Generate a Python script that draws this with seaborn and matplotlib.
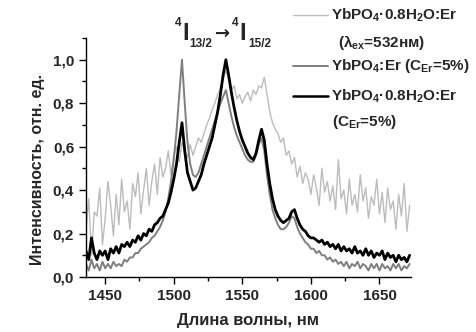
import numpy as np
import pandas as pd
import matplotlib
matplotlib.use('Agg')
import matplotlib.pyplot as plt
import seaborn as sns
from matplotlib.lines import Line2D
from matplotlib.ticker import MultipleLocator, FuncFormatter

# длины волн, нм (шаг 2 нм)
wavelength = list(range(1436, 1674, 2))

# YbPO4*0.8H2O:Er, возбуждение 532 нм (светло-серый)
lum_532 = [0.22, 0.36, 0.10, 0.30, 0.28, 0.41, 0.15, 0.27, 0.44, 0.33,
           0.19, 0.38, 0.24, 0.45, 0.30, 0.35, 0.22, 0.43, 0.37, 0.48,
           0.29, 0.40, 0.50, 0.33, 0.44, 0.52, 0.38, 0.55, 0.46, 0.50,
           0.58, 0.47, 0.56, 0.60, 0.53, 0.62, 0.58, 0.55, 0.61, 0.56,
           0.60, 0.64, 0.62, 0.66, 0.70, 0.73, 0.77, 0.80, 0.84, 0.87,
           0.91, 0.95, 0.91, 0.86, 0.88, 0.82, 0.84, 0.80, 0.83, 0.85,
           0.81, 0.86, 0.84, 0.88, 0.87, 0.92, 0.84, 0.76, 0.71, 0.68,
           0.66, 0.62, 0.64, 0.56, 0.58, 0.52, 0.55, 0.46, 0.51, 0.43,
           0.48, 0.45, 0.38, 0.47, 0.41, 0.33, 0.50, 0.39, 0.44, 0.35,
           0.42, 0.31, 0.54, 0.36, 0.40, 0.29, 0.45, 0.33, 0.38, 0.30,
           0.47, 0.35, 0.41, 0.27, 0.37, 0.33, 0.45, 0.29, 0.39, 0.25,
           0.41, 0.31, 0.35, 0.22, 0.38, 0.28, 0.43, 0.21, 0.33]

# YbPO4:Er (C_Er=5%) (тёмно-серый)
lum_anh = [0.06, 0.03, 0.08, 0.04, 0.06, 0.03, 0.07, 0.04, 0.06, 0.04,
           0.07, 0.05, 0.06, 0.05, 0.08, 0.07, 0.09, 0.09, 0.11, 0.11,
           0.13, 0.14, 0.15, 0.16, 0.18, 0.19, 0.21, 0.23, 0.26, 0.30,
           0.36, 0.44, 0.54, 0.67, 0.84, 1.00, 0.80, 0.62, 0.52, 0.47,
           0.46, 0.48, 0.52, 0.56, 0.60, 0.64, 0.68, 0.72, 0.76, 0.80,
           0.83, 0.86, 0.80, 0.74, 0.69, 0.65, 0.62, 0.59, 0.56, 0.54,
           0.53, 0.53, 0.56, 0.61, 0.64, 0.58, 0.47, 0.38, 0.31, 0.27,
           0.24, 0.22, 0.22, 0.23, 0.25, 0.28, 0.27, 0.23, 0.20, 0.18,
           0.16, 0.15, 0.13, 0.13, 0.11, 0.12, 0.10, 0.10, 0.08, 0.09,
           0.07, 0.08, 0.06, 0.07, 0.05, 0.07, 0.04, 0.06, 0.05, 0.07,
           0.04, 0.06, 0.05, 0.03, 0.06, 0.04, 0.06, 0.03, 0.06, 0.04,
           0.05, 0.03, 0.06, 0.04, 0.06, 0.03, 0.05, 0.04, 0.06]

# YbPO4*0.8H2O:Er (C_Er=5%) (чёрный)
lum_hyd = [0.12, 0.08, 0.18, 0.11, 0.08, 0.12, 0.10, 0.12, 0.08, 0.13,
           0.11, 0.14, 0.11, 0.15, 0.14, 0.16, 0.14, 0.17, 0.16, 0.19,
           0.17, 0.20, 0.19, 0.22, 0.21, 0.24, 0.25, 0.27, 0.28, 0.31,
           0.34, 0.39, 0.45, 0.52, 0.62, 0.71, 0.58, 0.48, 0.44, 0.40,
           0.41, 0.44, 0.47, 0.52, 0.56, 0.60, 0.64, 0.70, 0.76, 0.84,
           0.93, 1.00, 0.93, 0.85, 0.78, 0.72, 0.67, 0.63, 0.60, 0.57,
           0.55, 0.54, 0.57, 0.63, 0.68, 0.63, 0.52, 0.43, 0.36, 0.31,
           0.28, 0.26, 0.25, 0.26, 0.27, 0.30, 0.31, 0.27, 0.24, 0.22,
           0.21, 0.19, 0.18, 0.18, 0.17, 0.16, 0.17, 0.15, 0.16, 0.14,
           0.15, 0.13, 0.15, 0.12, 0.14, 0.12, 0.13, 0.11, 0.14, 0.11,
           0.12, 0.10, 0.13, 0.10, 0.12, 0.09, 0.11, 0.10, 0.12, 0.08,
           0.11, 0.09, 0.10, 0.07, 0.10, 0.08, 0.09, 0.07, 0.10]

W, H = 477, 332

sns.set_style("ticks")
plt.rcParams['font.family'] = ['Liberation Sans', 'DejaVu Sans']
plt.rcParams['font.weight'] = 'bold'
plt.rcParams['mathtext.fontset'] = 'custom'
plt.rcParams['mathtext.rm'] = 'Liberation Sans:bold'
plt.rcParams['mathtext.it'] = 'Liberation Sans:bold'
plt.rcParams['mathtext.bf'] = 'Liberation Sans:bold'

df = pd.DataFrame({"wl": wavelength, "l532": lum_532, "anh": lum_anh, "hyd": lum_hyd})

fig = plt.figure(figsize=(W / 100, H / 100), dpi=100)
ax = fig.add_axes([86 / W, 1 - 277 / H, (411 - 86) / W, (277 - 38) / H])

sns.lineplot(data=df, x="wl", y="l532", ax=ax, color="#bcbcbc", lw=1.0)
sns.lineplot(data=df, x="wl", y="anh", ax=ax, color="#7f7f7f", lw=1.4)
sns.lineplot(data=df, x="wl", y="hyd", ax=ax, color="black", lw=2.0)

ax.set_xlim(1436, 1673)
ax.set_ylim(0, 1.1)
ax.xaxis.set_major_locator(MultipleLocator(50))
ax.xaxis.set_minor_locator(MultipleLocator(25))
ax.yaxis.set_major_locator(MultipleLocator(0.2))
ax.yaxis.set_minor_locator(MultipleLocator(0.1))
ax.yaxis.set_major_formatter(FuncFormatter(lambda v, p: f"{v:.1f}".replace(".", ",")))
ax.tick_params(which="major", direction="out", length=5, width=1, labelsize=11, color="black")
ax.tick_params(which="minor", direction="out", length=3, width=1, color="black")
for lab in ax.get_xticklabels() + ax.get_yticklabels():
    lab.set_fontweight("bold")
sns.despine(ax=ax)
for s in ("left", "bottom"):
    ax.spines[s].set_linewidth(1.0)
    ax.spines[s].set_color("black")

ax.set_xlabel("Длина волны, нм", fontsize=12, fontweight="bold")
ax.set_ylabel("Интенсивность, отн. ед.", fontsize=11.5, fontweight="bold")
ax.xaxis.set_label_coords(0.5, (277 - 321) / 239, transform=ax.transAxes)
ax.yaxis.set_label_coords((38 - 86) / 325, (277 - 169) / 239, transform=ax.transAxes)
ax.xaxis.label.set_va("center")
ax.yaxis.label.set_va("center")


def fx(px):
    return px / W


def fy(py):
    return 1 - py / H


# подпись перехода 4I13/2 -> 4I15/2
fig.text(fx(178), fy(23), "4", fontsize=8.5, ha="center", va="center", fontweight="bold")
fig.text(fx(186), fy(34), "I", fontsize=17, ha="center", va="center", fontweight="bold")
fig.text(fx(201), fy(44), "13/2", fontsize=8.5, ha="center", va="center", fontweight="bold")
fig.text(fx(223), fy(34), "→", fontsize=13, ha="center", va="center", family="DejaVu Sans")
fig.text(fx(235), fy(23), "4", fontsize=8.5, ha="center", va="center", fontweight="bold")
fig.text(fx(243), fy(34), "I", fontsize=17, ha="center", va="center", fontweight="bold")
fig.text(fx(260), fy(44), "15/2", fontsize=8.5, ha="center", va="center", fontweight="bold")

# легенда
legend_rows = [
    ("#bcbcbc", 1.0, 15, "YbPO$_4$·0.8H$_2$O:Er", (338, 42, "(λ$_{ex}$=532нм)")),
    ("#7f7f7f", 1.4, 66, "YbPO$_4$:Er (C$_{Er}$=5%)", None),
    ("black", 1.8, 96, "YbPO$_4$·0.8H$_2$O:Er", (332, 122, "(C$_{Er}$=5%)")),
]
for color, lw, py, label, extra in legend_rows:
    fig.add_artist(Line2D([fx(293), fx(328)], [fy(py), fy(py)], color=color, lw=lw))
    fig.text(fx(331), fy(py), label, fontsize=11, ha="left", va="center", fontweight="bold")
    if extra is not None:
        fig.text(fx(extra[0]), fy(extra[1]), extra[2], fontsize=11, ha="left", va="center",
                 fontweight="bold")

fig.savefig("out.png", dpi=100)
